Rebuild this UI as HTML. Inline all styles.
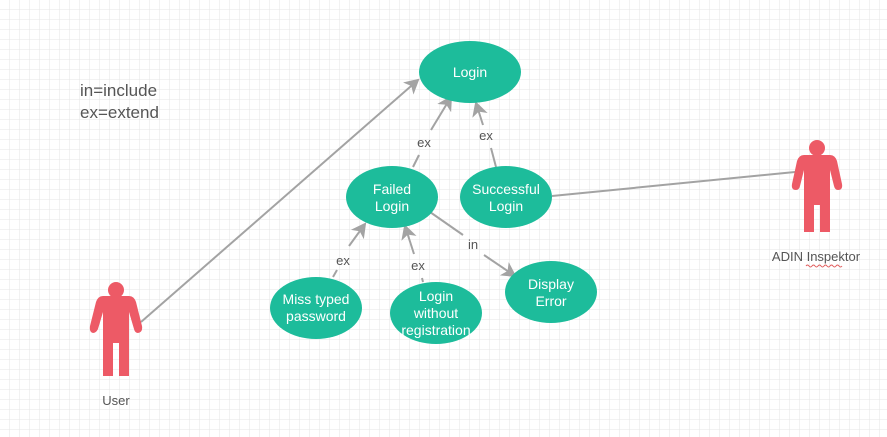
<!DOCTYPE html>
<html><head><style>
html,body{margin:0;padding:0;width:887px;height:437px;overflow:hidden;background:#fff;}
svg{display:block;}
text{font-family:"Liberation Sans",sans-serif;}
</style></head><body>
<svg width="887" height="437" viewBox="0 0 887 437" xmlns="http://www.w3.org/2000/svg">
<defs>
<pattern id="g" width="10" height="10" patternUnits="userSpaceOnUse"><path d="M10 0V10M0 10H10" fill="none" stroke="#e6e6e6" stroke-width="1"/></pattern>
<marker id="a" markerWidth="16" markerHeight="16" refX="13" refY="8" orient="auto" markerUnits="userSpaceOnUse"><path d="M0,0 L15,8 L0,16 L4,8 Z" fill="#a3a3a3"/></marker>
</defs>
<rect width="887" height="437" fill="url(#g)"/>
<g stroke="#a3a3a3" stroke-width="2" fill="none">
<line x1="141" y1="322" x2="418" y2="80" marker-end="url(#a)"/>
<line x1="413" y1="167" x2="419" y2="155"/><line x1="431" y1="130" x2="451" y2="97" marker-end="url(#a)"/>
<line x1="496" y1="167" x2="491" y2="148"/><line x1="483" y1="125" x2="476" y2="103" marker-end="url(#a)"/>
<line x1="552" y1="196" x2="795" y2="172"/>
<line x1="333" y1="277" x2="337" y2="270"/><line x1="349" y1="246" x2="365" y2="224" marker-end="url(#a)"/>
<line x1="423" y1="282" x2="422" y2="278"/><line x1="414" y1="254" x2="405" y2="226" marker-end="url(#a)"/>
<line x1="430" y1="212" x2="463" y2="235"/><line x1="484" y1="255" x2="515" y2="276" marker-end="url(#a)"/>
</g>
<g fill="#555" font-size="13" text-anchor="middle">
<text x="424" y="147">ex</text><text x="486" y="140">ex</text>
<text x="343" y="265">ex</text><text x="418" y="270">ex</text><text x="473" y="249">in</text>
</g>
<g fill="#1dbc9b">
<ellipse cx="470" cy="72" rx="51" ry="31"/>
<ellipse cx="392" cy="197" rx="46" ry="31"/>
<ellipse cx="506" cy="197" rx="46" ry="31"/>
<ellipse cx="316" cy="308" rx="46" ry="31"/>
<ellipse cx="436" cy="313" rx="46" ry="31"/>
<ellipse cx="551" cy="292" rx="46" ry="31"/>
</g>
<g fill="#fff" font-size="14" text-anchor="middle">
<text x="470" y="77">Login</text>
<text x="392" y="194">Failed</text><text x="392" y="211">Login</text>
<text x="506" y="194">Successful</text><text x="506" y="211">Login</text>
<text x="316" y="304">Miss typed</text><text x="316" y="321">password</text>
<text x="436" y="301">Login</text><text x="436" y="318">without</text><text x="436" y="335">registration</text>
<text x="551" y="289">Display</text><text x="551" y="306">Error</text>
</g>
<g fill="#ed5a66">
<circle cx="116" cy="290" r="8"/>
<path d="M103 296 H129 Q134 296 136 302 L142 326 Q143 332 138 333 Q135 333 134 329 L129 312 V376 H119 V343 H113 V376 H103 V312 L98 329 Q96 333 93 333 Q89 332 90 326 L96 302 Q98 296 103 296 Z"/>
<circle cx="817" cy="148" r="8"/>
<path d="M804 155 H830 Q835 155 837 161 L842 184 Q843 190 838 190 Q835 190 834 186 L830 170 V232 H820 V205 H814 V232 H804 V170 L800 186 Q799 190 796 190 Q791 190 792 184 L797 161 Q799 155 804 155 Z"/>
</g>
<g fill="#555" font-size="13" text-anchor="middle">
<text x="116" y="405">User</text>
<text x="816" y="261">ADIN Inspektor</text>
</g>
<path d="M806 266 q1.5 -2 3 0 t3 0 t3 0 t3 0 t3 0 t3 0 t3 0 t3 0 t3 0 t3 0 t3 0 t3 0" stroke="#e05a5a" stroke-width="1" fill="none"/>
<g fill="#555" font-size="17">
<text x="80" y="96">in=include</text>
<text x="80" y="118">ex=extend</text>
</g>
</svg>
</body></html>
